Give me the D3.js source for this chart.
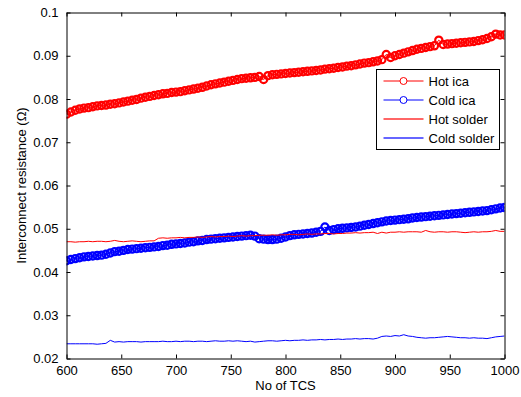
<!DOCTYPE html>
<html>
<head>
<meta charset="utf-8">
<script src="https://cdn.jsdelivr.net/npm/d3@7"></script>
<style>
  body { margin: 0; background: #fff; }
  svg { display: block; font-family: "Liberation Sans", Arial, sans-serif; }
</style>
</head>
<body>
<div id="chartHolder"></div>
<script>
// number of thermal cycles (x axis)
const tcs = [
  600, 604, 608, 612, 616, 620, 624, 628, 632, 636, 640, 644, 648, 652, 656, 660, 664, 668, 672, 676,
  680, 684, 688, 692, 696, 700, 704, 708, 712, 716, 720, 724, 728, 732, 736, 740, 744, 748, 752, 756,
  760, 764, 768, 772, 776, 780, 784, 788, 792, 796, 800, 804, 808, 812, 816, 820, 824, 828, 832, 836,
  840, 844, 848, 852, 856, 860, 864, 868, 872, 876, 880, 884, 888, 892, 896, 900, 904, 908, 912, 916,
  920, 924, 928, 932, 936, 940, 944, 948, 952, 956, 960, 964, 968, 972, 976, 980, 984, 988, 992, 996,
  1000
];

const hotIca = [
  0.0765, 0.0770, 0.0774, 0.0777, 0.0779, 0.0780, 0.0782, 0.0784, 0.0785, 0.0786,
  0.0788, 0.0789, 0.0791, 0.0793, 0.0795, 0.0797, 0.0799, 0.0802, 0.0804, 0.0806,
  0.0808, 0.0810, 0.0812, 0.0813, 0.0815, 0.0816, 0.0817, 0.0819, 0.0821, 0.0823,
  0.0825, 0.0827, 0.0830, 0.0833, 0.0835, 0.0837, 0.0839, 0.0841, 0.0843, 0.0845,
  0.0847, 0.0848, 0.0849, 0.0850, 0.0852, 0.0845, 0.0854, 0.0856, 0.0857, 0.0858,
  0.0859, 0.0860, 0.0861, 0.0862, 0.0863, 0.0864, 0.0865, 0.0866, 0.0867, 0.0869,
  0.0870, 0.0871, 0.0873, 0.0874, 0.0876, 0.0877, 0.0879, 0.0881, 0.0883, 0.0884,
  0.0886, 0.0888, 0.0891, 0.0903, 0.0896, 0.0900, 0.0903, 0.0906, 0.0909, 0.0912,
  0.0915, 0.0917, 0.0919, 0.0921, 0.0923, 0.0936, 0.0926, 0.0927, 0.0928, 0.0929,
  0.0930, 0.0931, 0.0932, 0.0933, 0.0935, 0.0937, 0.0940, 0.0944, 0.0950, 0.0948,
  0.0948
];

const coldIca = [
  0.0426, 0.0429, 0.0431, 0.0433, 0.0435, 0.0436, 0.0437, 0.0438, 0.0439, 0.0441,
  0.0444, 0.0447, 0.0448, 0.0450, 0.0452, 0.0453, 0.0454, 0.0455, 0.0456, 0.0457,
  0.0458, 0.0459, 0.0461, 0.0462, 0.0464, 0.0465, 0.0466, 0.0467, 0.0469, 0.0470,
  0.0472, 0.0473, 0.0475, 0.0476, 0.0477, 0.0478, 0.0479, 0.0480, 0.0481, 0.0482,
  0.0483, 0.0484, 0.0485, 0.0483, 0.0477, 0.0476, 0.0475, 0.0475, 0.0476, 0.0478,
  0.0481, 0.0484, 0.0486, 0.0487, 0.0488, 0.0489, 0.0490, 0.0492, 0.0494, 0.0504,
  0.0496, 0.0498, 0.0500, 0.0501, 0.0502, 0.0503, 0.0504, 0.0506, 0.0508, 0.0510,
  0.0512, 0.0514, 0.0516, 0.0518, 0.0519, 0.0520, 0.0521, 0.0522, 0.0523, 0.0525,
  0.0526, 0.0527, 0.0528, 0.0529, 0.0530, 0.0531, 0.0532, 0.0533, 0.0534, 0.0535,
  0.0536, 0.0537, 0.0538, 0.0539, 0.0540, 0.0541, 0.0542, 0.0544, 0.0546, 0.0548,
  0.0549
];

const hotSolder = [
  0.0470, 0.0470, 0.0469, 0.0470, 0.0470, 0.0471, 0.0470, 0.0471, 0.0471, 0.0470,
  0.0471, 0.0473, 0.0471, 0.0470, 0.0471, 0.0472, 0.0471, 0.0470, 0.0471, 0.0472,
  0.0472, 0.0478, 0.0479, 0.0478, 0.0479, 0.0479, 0.0480, 0.0479, 0.0480, 0.0480,
  0.0481, 0.0480, 0.0481, 0.0482, 0.0481, 0.0482, 0.0482, 0.0483, 0.0482, 0.0483,
  0.0484, 0.0483, 0.0484, 0.0484, 0.0485, 0.0485, 0.0485, 0.0486, 0.0485, 0.0486,
  0.0486, 0.0487, 0.0487, 0.0486, 0.0487, 0.0488, 0.0487, 0.0488, 0.0488, 0.0489,
  0.0489, 0.0488, 0.0489, 0.0489, 0.0490, 0.0490, 0.0491, 0.0490, 0.0491, 0.0491,
  0.0492, 0.0489, 0.0492, 0.0490, 0.0492, 0.0492, 0.0493, 0.0492, 0.0493, 0.0493,
  0.0493, 0.0492, 0.0496, 0.0493, 0.0492, 0.0493, 0.0493, 0.0492, 0.0493, 0.0493,
  0.0492, 0.0491, 0.0492, 0.0493, 0.0492, 0.0493, 0.0493, 0.0494, 0.0496, 0.0494,
  0.0494
];

const coldSolder = [
  0.0234, 0.0234, 0.0234, 0.0234, 0.0234, 0.0234, 0.0234, 0.0233, 0.0234, 0.0235,
  0.0242, 0.0238, 0.0239, 0.0238, 0.0239, 0.0239, 0.0239, 0.0238, 0.0239, 0.0239,
  0.0239, 0.0239, 0.0240, 0.0239, 0.0239, 0.0240, 0.0239, 0.0240, 0.0240, 0.0239,
  0.0240, 0.0240, 0.0239, 0.0240, 0.0241, 0.0240, 0.0240, 0.0241, 0.0240, 0.0241,
  0.0240, 0.0239, 0.0240, 0.0238, 0.0239, 0.0240, 0.0241, 0.0241, 0.0240, 0.0241,
  0.0242, 0.0241, 0.0242, 0.0242, 0.0243, 0.0242, 0.0243, 0.0243, 0.0244, 0.0243,
  0.0244, 0.0244, 0.0245, 0.0244, 0.0245, 0.0245, 0.0246, 0.0245, 0.0246, 0.0246,
  0.0245, 0.0247, 0.0251, 0.0252, 0.0251, 0.0253, 0.0252, 0.0255, 0.0252, 0.0251,
  0.0249, 0.0248, 0.0247, 0.0248, 0.0248, 0.0249, 0.0250, 0.0251, 0.0250, 0.0249,
  0.0248, 0.0248, 0.0247, 0.0248, 0.0247, 0.0247, 0.0246, 0.0248, 0.0250, 0.0251,
  0.0252
];

const xTicks = [600, 650, 700, 750, 800, 850, 900, 950, 1000];
const yTicks = [0.02, 0.03, 0.04, 0.05, 0.06, 0.07, 0.08, 0.09, 0.1];

const seriesNames = ['Hot ica', 'Cold ica', 'Hot solder', 'Cold solder'];

const series = [
  { name: seriesNames[0], values: hotIca, color: '#ff0000', marker: true },
  { name: seriesNames[1], values: coldIca, color: '#0000ff', marker: true },
  { name: seriesNames[2], values: hotSolder, color: '#ff0000', marker: false },
  { name: seriesNames[3], values: coldSolder, color: '#0000ff', marker: false }
];

const width = 521;
const height = 397;
const plot = { left: 66.5, right: 504.5, top: 12.5, bottom: 358.5 };

const svg = d3.select('#chartHolder').append('svg')
  .attr('width', width)
  .attr('height', height);

const x = d3.scaleLinear().domain([600, 1000]).range([plot.left, plot.right]);
const y = d3.scaleLinear().domain([0.02, 0.1]).range([plot.bottom, plot.top]);

svg.append('clipPath').attr('id', 'plotClip')
  .append('rect')
  .attr('x', plot.left).attr('y', plot.top)
  .attr('width', plot.right - plot.left).attr('height', plot.bottom - plot.top);

const data = s => s.values.map((v, i) => ({ t: tcs[i], v: v }));

const line = d3.line()
  .x(d => x(d.t))
  .y(d => y(d.v));

const marks = svg.append('g').attr('clip-path', 'url(#plotClip)');

series.forEach(s => {
  const pts = data(s);
  marks.append('path')
    .datum(pts)
    .attr('fill', 'none')
    .attr('stroke', s.color)
    .attr('stroke-width', 1)
    .attr('d', line);
  if (s.marker) {
    // markers sit very close together, so they merge into a thick band
    marks.append('g')
      .selectAll('circle')
      .data(pts)
      .enter().append('circle')
      .attr('cx', d => x(d.t))
      .attr('cy', d => y(d.v))
      .attr('r', 3.6)
      .attr('fill', 'none')
      .attr('stroke', s.color)
      .attr('stroke-width', 2.2);
  }
});

// axes: box with inward ticks on all sides
const tickLen = 4;
const fmtY = d => d3.format('.2~f')(d);
const fmtX = d3.format('d');

svg.append('g')
  .attr('transform', 'translate(0,' + plot.bottom + ')')
  .call(d3.axisBottom(x).tickValues(xTicks).tickFormat(fmtX).tickSize(-tickLen).tickPadding(7).tickSizeOuter(0))
  .call(g => g.selectAll('text').attr('font-size', 13).attr('font-family', null).attr('fill', '#000'));

svg.append('g')
  .attr('transform', 'translate(0,' + plot.top + ')')
  .call(d3.axisTop(x).tickValues(xTicks).tickSize(-tickLen).tickFormat('').tickSizeOuter(0));

svg.append('g')
  .attr('transform', 'translate(' + plot.left + ',0)')
  .call(d3.axisLeft(y).tickValues(yTicks).tickFormat(fmtY).tickSize(-tickLen).tickPadding(8).tickSizeOuter(0))
  .call(g => g.selectAll('text').attr('font-size', 13).attr('font-family', null).attr('fill', '#000'));

svg.append('g')
  .attr('transform', 'translate(' + plot.right + ',0)')
  .call(d3.axisRight(y).tickValues(yTicks).tickSize(-tickLen).tickFormat('').tickSizeOuter(0));

svg.selectAll('.domain').attr('stroke', '#000');
svg.selectAll('.tick line').attr('stroke', '#000');

svg.append('text')
  .attr('x', (plot.left + plot.right) / 2)
  .attr('y', 390)
  .attr('text-anchor', 'middle')
  .attr('font-size', 13)
  .text('No of TCS');

svg.append('text')
  .attr('transform', 'translate(26,' + (plot.top + plot.bottom) / 2 + ') rotate(-90)')
  .attr('text-anchor', 'middle')
  .attr('font-size', 13)
  .text('Interconnect resistance (Ω)');

// legend
const legend = svg.append('g').attr('transform', 'translate(376.5,69.5)');
legend.append('rect')
  .attr('width', 123).attr('height', 80)
  .attr('fill', '#fff').attr('stroke', '#000');

const rowY = d3.scalePoint().domain(seriesNames).range([11.5, 68.5]);

series.forEach(s => {
  const row = legend.append('g').attr('transform', 'translate(0,' + rowY(s.name) + ')');
  row.append('line')
    .attr('x1', 7).attr('x2', 47)
    .attr('stroke', s.color)
    .attr('stroke-width', s.marker ? 1 : 2)
    .attr('stroke-opacity', s.marker ? 1 : 0.6);
  if (s.marker) {
    row.append('circle')
      .attr('cx', 27).attr('r', 3.5)
      .attr('fill', '#fff').attr('stroke', s.color);
  }
  row.append('text')
    .attr('x', 52).attr('dy', '0.35em')
    .attr('font-size', 13)
    .text(s.name);
});
</script>
</body>
</html>
